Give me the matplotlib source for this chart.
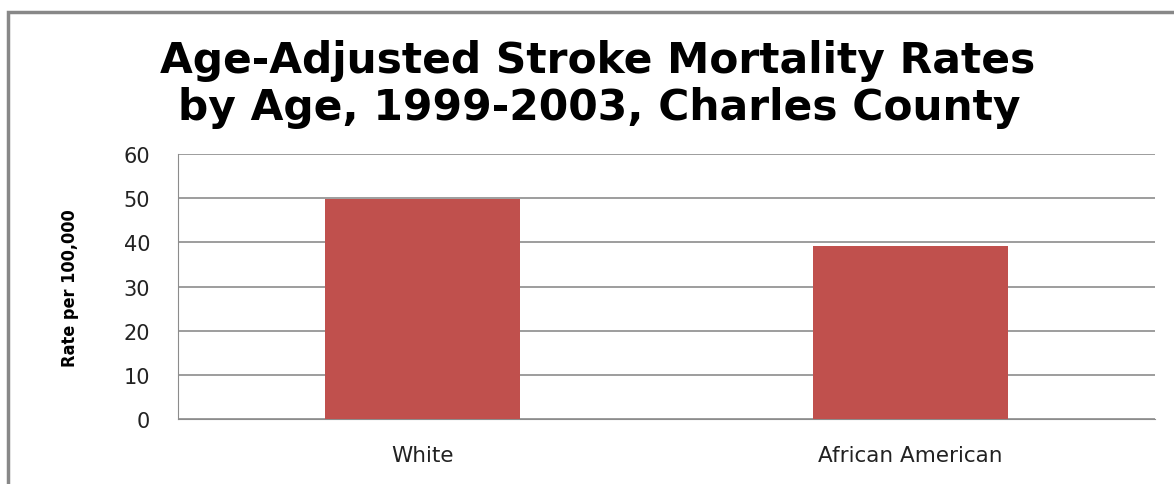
import matplotlib
matplotlib.use("Agg")
import matplotlib.pyplot as plt
from matplotlib.patches import Rectangle

groups = ["White", "African American"]
rates = [49.8, 39.1]
y_ticks = [0, 10, 20, 30, 40, 50, 60]

title_lines = ["Age-Adjusted Stroke Mortality Rates",
               "by Age, 1999-2003, Charles County"]
ylabel = "Rate per 100,000"

fig = plt.figure(figsize=(11.74, 4.85), dpi=100)
W, H = 1174, 485
ax = fig.add_axes([178 / W, 1 - 420 / H, (1155 - 178) / W, (420 - 155) / H])

x = range(len(groups))
ax.bar(x, rates, width=0.4, color="#C0504D", zorder=3)

ax.set_xlim(-0.5, 1.5)
ax.set_ylim(0, 60)
ax.set_yticks(y_ticks)
ax.set_yticklabels([str(t) for t in y_ticks], fontsize=15, color="#222222")
ax.set_xticks(list(x))
ax.set_xticklabels(groups, fontsize=15.5, color="#222222")
ax.tick_params(axis="y", length=0, pad=20)
ax.tick_params(axis="x", length=0, pad=19)

ax.grid(axis="y", color="#8c8c8c", linewidth=1.2, zorder=0)
for s in ["top", "right"]:
    ax.spines[s].set_visible(False)
ax.spines["left"].set_color("#8c8c8c")
ax.spines["bottom"].set_color("#8c8c8c")

fig.text(70 / W, 1 - 288 / H, ylabel, rotation=90, ha="center", va="center",
         fontsize=13, fontweight="bold", fontstretch="condensed")

fig.text(598 / W, 1 - 73 / H, title_lines[0], ha="center", va="baseline",
         fontsize=30.5, fontweight="bold")
fig.text(599 / W, 1 - 120 / H, title_lines[1], ha="center", va="baseline",
         fontsize=30.5, fontweight="bold")

# outer chart frame (runs off the right and bottom edges)
fig.patches.append(Rectangle((8 / W, -0.05), 1.2, 1 - 13 / H + 0.05,
                             transform=fig.transFigure, fill=False,
                             edgecolor="#888888", linewidth=2.5))

fig.savefig("out.png", dpi=100)
